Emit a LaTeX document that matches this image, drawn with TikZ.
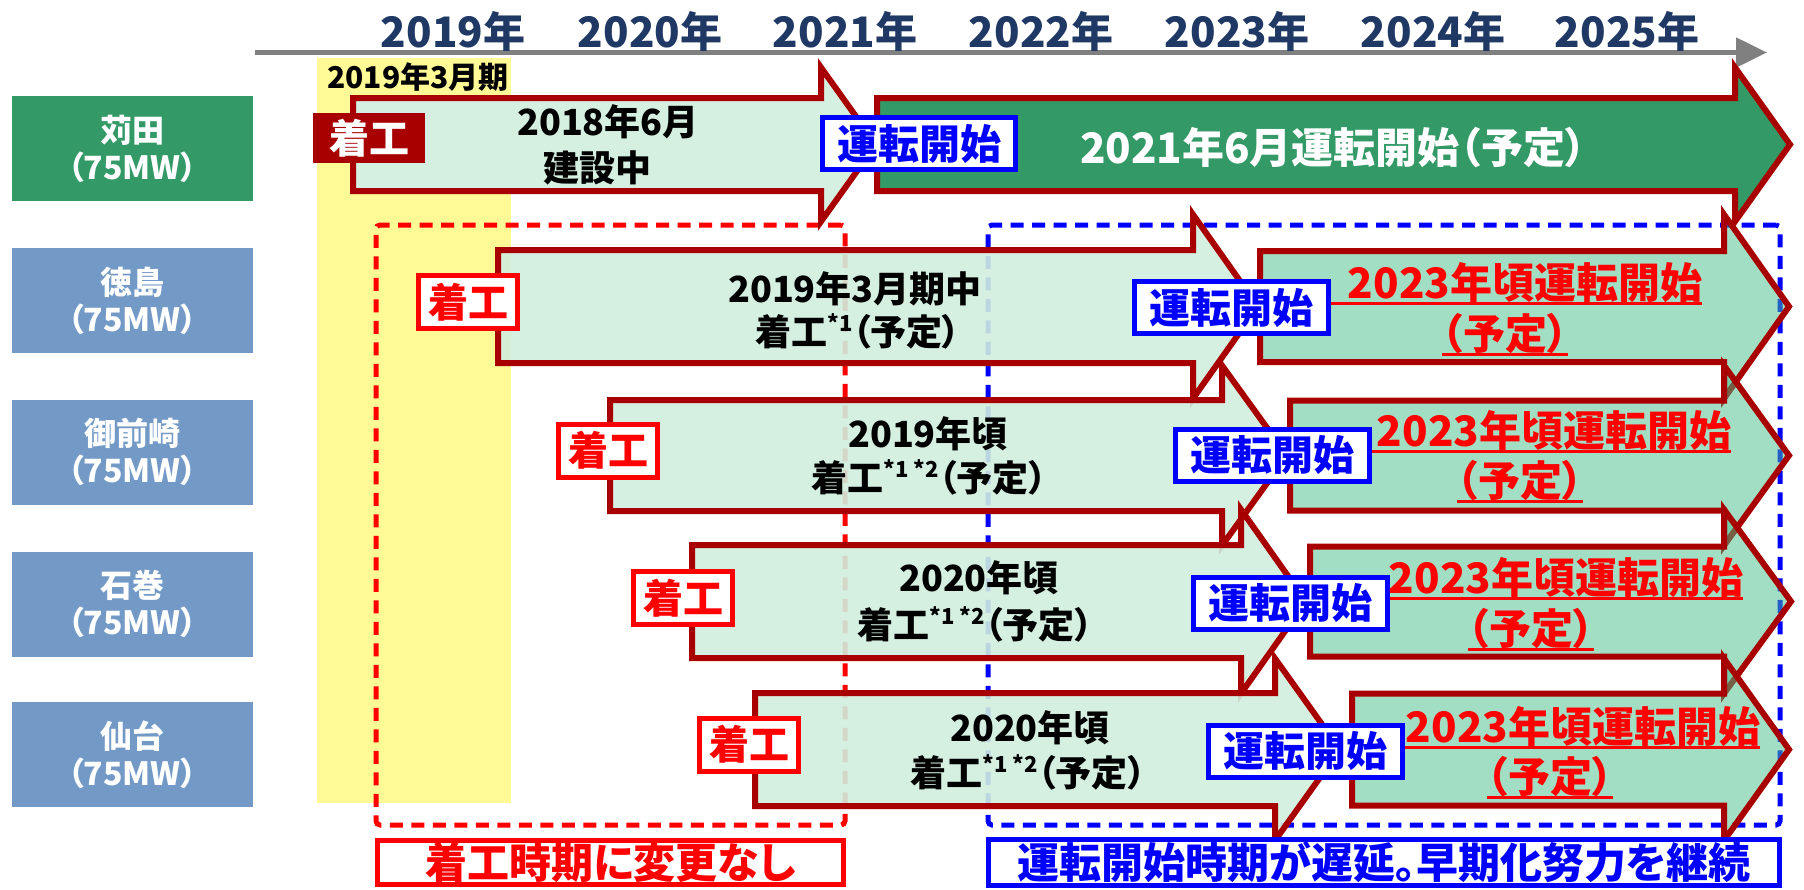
\documentclass[tikz,border=0pt]{standalone}
\usepackage{fontspec}
\setmainfont{Noto Sans CJK JP}[RawFeature={+palt}]
\usetikzlibrary{arrows.meta}
\definecolor{arrowred}{RGB}{168,0,0}
\definecolor{lightmintT}{RGB}{208,238,222}
\definecolor{lightmint}{RGB}{213,240,225}
\definecolor{darkgreen}{RGB}{51,153,102}
\definecolor{greenT}{RGB}{70,190,138}
\definecolor{slate}{RGB}{115,154,198}
\definecolor{navy}{RGB}{31,56,100}
\definecolor{axisgray}{RGB}{128,128,128}
\definecolor{yel}{RGB}{255,250,150}
\newcommand\fsz[1]{\fontsize{#1}{#1}\selectfont\bfseries}
\newcommand\sups[1]{\smash{\raisebox{14pt}{\fontsize{22}{22}\selectfont\bfseries #1}}}
% style, left x, center y, half body, head base x, tip x, half head
\newcommand\bigarrow[7]{%
  \path[#1] (#2,{#3-#4}) -- (#5,{#3-#4}) -- (#5,{#3-#7}) -- (#6,#3)
    -- (#5,{#3+#7}) -- (#5,{#3+#4}) -- (#2,{#3+#4}) -- cycle;}
\tikzset{
  arr/.style={draw=arrowred, line width=6pt, line join=miter},
  lightarr/.style={arr, fill=lightmintT, fill opacity=0.9},
  lightarrsolid/.style={arr, fill=lightmint},
  greenarr/.style={arr, fill=greenT, fill opacity=0.5},
  darkarr/.style={arr, fill=darkgreen},
  yearlbl/.style={text=navy, font=\fsz{42}, inner sep=0},
  blk/.style={text=black, font=\fsz{36}, inner sep=0},
  redtxt/.style={text=red, font=\fsz{42}, inner sep=0},
  uline/.style={red, line width=2.5pt},
  startbox/.style={draw=blue, line width=5pt, fill=white, text=blue,
    minimum width=194, minimum height=52, inner sep=0, font=\fsz{41}},
  kbox/.style={draw=red, line width=5pt, fill=white, text=red,
    minimum width=99, minimum height=53, inner sep=0, font=\fsz{40}},
  plant/.style={fill=slate, minimum width=241.5, minimum height=105,
    inner sep=0, text=white, align=center, font=\fontsize{32}{37}\selectfont\bfseries},
  zone/.style={line width=5pt, dash pattern=on 13pt off 8.5pt, rounded corners=4pt,
    inner sep=0},
  note/.style={line width=5pt, fill=white, inner sep=0, font=\fsz{42}}
}
\begin{document}
\begin{tikzpicture}[x=1pt,y=-1pt]
\useasboundingbox (0,0) rectangle (1804,889);
% yellow band
\fill[yel] (317,58) rectangle (511,803);
% time axis
\coordinate (axL) at (255,52.5);
\coordinate (axR) at (1767,52.5);
\draw[axisgray, line width=5pt, -{Triangle[length=31pt,width=29pt]}] (axL) -- (axR);
\node[yearlbl] (y19) at (453,31) {2019年};
\node[yearlbl] (y20) at (650,31) {2020年};
\node[yearlbl] (y21) at (845,31) {2021年};
\node[yearlbl] (y22) at (1041,31) {2022年};
\node[yearlbl] (y23) at (1237,31) {2023年};
\node[yearlbl] (y24) at (1433,31) {2024年};
\node[yearlbl] (y25) at (1627,31) {2025年};
\node[anchor=west, font=\fsz{30}, inner sep=0] (fy) at (327,77) {2019年3月期};
% dashed zones
\node[zone, draw=red, minimum width=469, minimum height=600] (redzone) at (610.5,525) {};
\node[zone, draw=blue, minimum width=792, minimum height=600] (bluezone) at (1384,525) {};
% plant labels
\node[plant, fill=darkgreen] (l1) at (132.25,148.5) {苅田\\（75MW）};
\node[plant] (l2) at (132.25,300.5) {徳島\\（75MW）};
\node[plant] (l3) at (132.25,452) {御前崎\\（75MW）};
\node[plant] (l4) at (132.25,604) {石巻\\（75MW）};
\node[plant] (l5) at (132.25,754.5) {仙台\\（75MW）};
% ---- row 1
\bigarrow{lightarrsolid}{353}{144.5}{46.5}{821}{876}{77}
\bigarrow{darkarr}{877}{144.5}{46.5}{1735}{1790}{77}
\node[blk] (t1a) at (608,122) {2018年6月};
\node[blk] (t1b) at (597,168) {建設中};
\node[text=white, font=\fsz{42}, inner sep=0] (g1) at (1333,148) {2021年6月運転開始（予定）};
\node[startbox, minimum width=193] (s1) at (919,143.5) {運転開始};
\node[fill=arrowred, text=white, minimum width=112, minimum height=50, inner sep=0, font=\fsz{40}] (k1) at (369,138) {着工};
% ---- row 2
\bigarrow{lightarr}{498}{306.5}{56.5}{1193}{1258}{92}
\bigarrow{greenarr}{1260}{306.5}{55.5}{1724}{1789}{92}
\node[blk] (t2a) at (855,289) {2019年3月期中};
\node[blk] (t2b) at (858,332) {着工\sups{*1}（予定）};
\node[startbox] (s2) at (1231,307.5) {運転開始};
\node[redtxt] (r2a) at (1525,283) {2023年頃運転開始};
\node[redtxt] (r2b) at (1505,334) {（予定）};
\draw[uline] (s2.east |- r2a.south) -- (r2a.south east);
\draw[uline] (r2b.south west) -- (r2b.south east);
\node[kbox] (k2) at (468,302) {着工};
% ---- row 3
\bigarrow{lightarr}{610}{455.5}{55.5}{1222}{1287}{90}
\bigarrow{greenarr}{1290}{455.5}{55}{1724}{1789}{90}
\node[blk] (t3a) at (928,434) {2019年頃};
\node[blk] (t3b) at (929,478) {着工\sups{*1 *2}（予定）};
\node[startbox] (s3) at (1272.5,455) {運転開始};
\node[redtxt] (r3a) at (1554,431) {2023年頃運転開始};
\node[redtxt] (r3b) at (1520,481) {（予定）};
\draw[uline] (s3.east |- r3a.south) -- (r3a.south east);
\draw[uline] (r3b.south west) -- (r3b.south east);
\node[kbox] (k3) at (608,450.5) {着工};
% ---- row 4
\bigarrow{lightarr}{692}{601.5}{56.5}{1241}{1306}{92}
\bigarrow{greenarr}{1310}{601.5}{55}{1724}{1791}{92}
\node[blk] (t4a) at (979,578) {2020年頃};
\node[blk] (t4b) at (975,625) {着工\sups{*1 *2}（予定）};
\node[startbox] (s4) at (1290,603) {運転開始};
\node[redtxt] (r4a) at (1566,578) {2023年頃運転開始};
\node[redtxt] (r4b) at (1531,629) {（予定）};
\draw[uline] (s4.east |- r4a.south) -- (r4a.south east);
\draw[uline] (r4b.south west) -- (r4b.south east);
\node[kbox] (k4) at (683,598) {着工};
% ---- row 5
\bigarrow{lightarr}{755}{749.5}{56.5}{1275}{1340}{91}
\bigarrow{greenarr}{1352}{749.5}{56}{1724}{1789}{91}
\node[blk] (t5a) at (1030,728) {2020年頃};
\node[blk] (t5b) at (1028,773) {着工\sups{*1 *2}（予定）};
\node[startbox] (s5) at (1305,751) {運転開始};
\node[redtxt] (r5a) at (1583,727) {2023年頃運転開始};
\node[redtxt] (r5b) at (1550,777) {（予定）};
\draw[uline] (s5.east |- r5a.south) -- (r5a.south east);
\draw[uline] (r5b.south west) -- (r5b.south east);
\node[kbox] (k5) at (749,744.5) {着工};
% ---- notes
\node[note, draw=red, text=red, minimum width=466, minimum height=44] (n1) at (610.5,862.5) {着工時期に変更なし};
\node[note, draw=blue, text=blue, minimum width=791, minimum height=46] (n2) at (1384,862.5) {運転開始時期が遅延。早期化努力を継続};
\end{tikzpicture}
\end{document}
